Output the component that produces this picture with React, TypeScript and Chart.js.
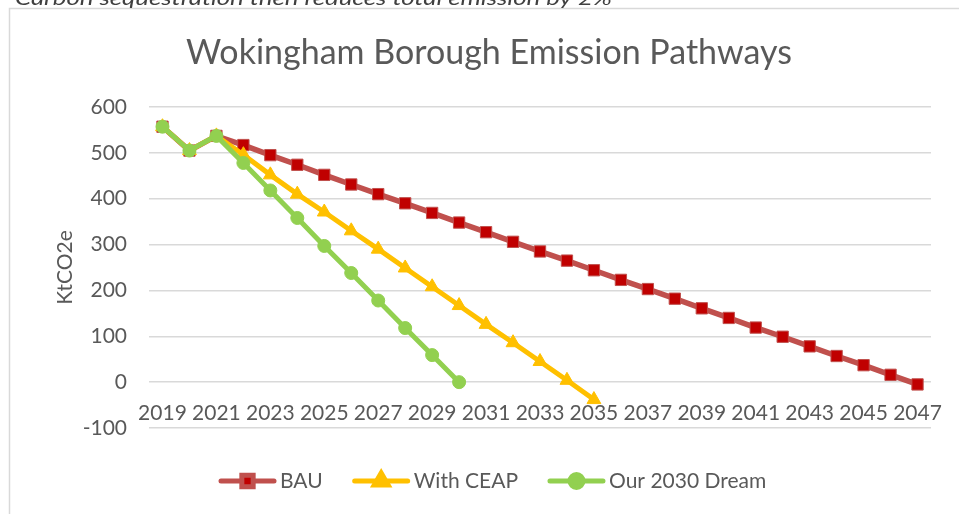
import React, { useEffect, useRef } from 'react';
import { Chart, registerables } from 'chart.js';
import { drawPoint } from 'chart.js/helpers';

Chart.register(...registerables);

const YEARS = [
  '2019', '2020', '2021', '2022', '2023', '2024', '2025', '2026', '2027', '2028',
  '2029', '2030', '2031', '2032', '2033', '2034', '2035', '2036', '2037', '2038',
  '2039', '2040', '2041', '2042', '2043', '2044', '2045', '2046', '2047',
];
const BAU = [
  557, 505, 537, 517, 495, 474, 452, 431, 410, 390,
  369, 348, 327, 306, 285, 265, 244, 223, 203, 182,
  161, 140, 119, 99, 78, 57, 37, 16, -5,
];
const WITH_CEAP = [
  557, 505, 537, 496, 452, 410, 371, 330, 290, 249,
  208, 167, 126, 86, 45, 4, -38,
];
const OUR_2030_DREAM = [557, 505, 537, 478, 418, 358, 297, 238, 178, 118, 59, 0];

const SERIES_NAMES = ['BAU', 'With CEAP', 'Our 2030 Dream'];
const TITLE = 'Wokingham Borough Emission Pathways';
const Y_TITLE = 'KtCO2e';
const CAPTION = 'Carbon sequestration then reduces total emission by 2%';
const Y_MIN = -100;
const Y_MAX = 600;
const Y_STEP = 100;

const FONT = 'Lato';
const TEXT_COLOR = '#595959';

const decorPlugin = {
  id: 'decor',
  beforeDraw(chart: any) {
    const ctx = chart.ctx;
    ctx.save();
    // frame
    ctx.strokeStyle = '#d9d9d9';
    ctx.lineWidth = 1.5;
    ctx.strokeRect(9.5, 8.5, 1000, 600);
    // caption (cut off at top)
    ctx.font = `italic 20px ${FONT}`;
    ctx.fillStyle = '#404040';
    ctx.textBaseline = 'alphabetic';
    const w = ctx.measureText(CAPTION).width;
    ctx.translate(15, 5);
    ctx.scale(597 / w, 1);
    ctx.fillText(CAPTION, 0, 0);
    ctx.restore();
    // title
    ctx.save();
    ctx.font = `34px ${FONT}`;
    ctx.fillStyle = TEXT_COLOR;
    ctx.textAlign = 'center';
    ctx.textBaseline = 'alphabetic';
    ctx.fillText(TITLE, 489, 64);
    ctx.restore();
  },
  afterDraw(chart: any) {
    const ctx = chart.ctx;
    ctx.save();
    const y = 481;
    let x = 219;
    ctx.font = `21px ${FONT}`;
    chart.data.datasets.forEach((ds: any) => {
      ctx.strokeStyle = ds.borderColor;
      ctx.lineWidth = 5;
      ctx.lineCap = 'round';
      ctx.beginPath();
      ctx.moveTo(x + 2, y);
      ctx.lineTo(x + 55, y);
      ctx.stroke();
      ctx.lineCap = 'butt';
      ctx.fillStyle = ds.pointBackgroundColor;
      ctx.strokeStyle = ds.pointBorderColor;
      drawPoint(ctx, {
        pointStyle: ds.pointStyle,
        rotation: 0,
        radius: ds.pointRadius,
        borderWidth: ds.pointBorderWidth,
      }, x + 28.5, y);
      ctx.fillStyle = TEXT_COLOR;
      ctx.textBaseline = 'middle';
      ctx.textAlign = 'left';
      ctx.fillText(ds.label, x + 61, y);
      x += 61 + ctx.measureText(ds.label).width + 30;
    });
    ctx.restore();
  },
};

export default function App() {
  const ref = useRef<HTMLCanvasElement | null>(null);

  useEffect(() => {
    document.body.style.margin = '0';
    document.body.style.overflow = 'hidden';
    const canvas = ref.current;
    if (!canvas) return;
    const chart = new Chart(canvas, {
      type: 'line',
      data: {
        labels: YEARS,
        datasets: [
          {
            label: SERIES_NAMES[0],
            data: BAU,
            borderColor: '#C0504D',
            borderWidth: 5.5,
            pointStyle: 'rect',
            pointRadius: 8,
            pointBackgroundColor: '#C00000',
            pointBorderColor: '#C0504D',
            pointBorderWidth: 1,
            tension: 0,
            order: 3,
          },
          {
            label: SERIES_NAMES[1],
            data: WITH_CEAP,
            borderColor: '#FFC000',
            borderWidth: 5,
            pointStyle: 'triangle',
            pointRadius: 8,
            pointBackgroundColor: '#FFC000',
            pointBorderColor: '#FFC000',
            pointBorderWidth: 1,
            tension: 0,
            order: 2,
          },
          {
            label: SERIES_NAMES[2],
            data: OUR_2030_DREAM,
            borderColor: '#92D050',
            borderWidth: 5,
            pointStyle: 'circle',
            pointRadius: 6.5,
            pointBackgroundColor: '#92D050',
            pointBorderColor: '#92D050',
            pointBorderWidth: 1,
            tension: 0,
            order: 1,
          },
        ],
      },
      options: {
        animation: false,
        responsive: false,
        devicePixelRatio: 1,
        layout: { padding: { left: 0, right: 49, top: 107, bottom: 86 } },
        plugins: {
          legend: { display: false },
          tooltip: { enabled: false },
          title: { display: false },
        },
        scales: {
          x: {
            type: 'category',
            position: { y: 0 } as any,
            offset: true,
            grid: { display: false, drawTicks: false },
            border: { display: false },
            ticks: {
              autoSkip: false,
              maxRotation: 0,
              minRotation: 0,
              padding: 18,
              color: TEXT_COLOR,
              font: { family: FONT, size: 21 },
              callback: (_v: any, i: number) => (i % 2 === 0 ? YEARS[i] : ''),
            },
          },
          y: {
            min: Y_MIN,
            max: Y_MAX,
            afterFit: (scale: any) => { scale.width = 149; },
            grid: { color: '#d9d9d9', lineWidth: 1.5, drawTicks: false },
            border: { display: false },
            ticks: {
              stepSize: Y_STEP,
              padding: 22,
              color: TEXT_COLOR,
              font: { family: FONT, size: 21 },
            },
            title: {
              display: true,
              text: Y_TITLE,
              color: TEXT_COLOR,
              font: { family: FONT, size: 21, weight: 'normal' },
              padding: { top: 53, bottom: 0 },
            },
          },
        },
      },
      plugins: [decorPlugin],
    });
    return () => chart.destroy();
  }, []);

  return (
    <div style={{ position: 'fixed', left: 0, top: 0, width: 959, height: 514, overflow: 'hidden', background: '#fff' }}>
      <canvas ref={ref} width={980} height={514} style={{ display: 'block', width: 980, height: 514 }} />
    </div>
  );
}
